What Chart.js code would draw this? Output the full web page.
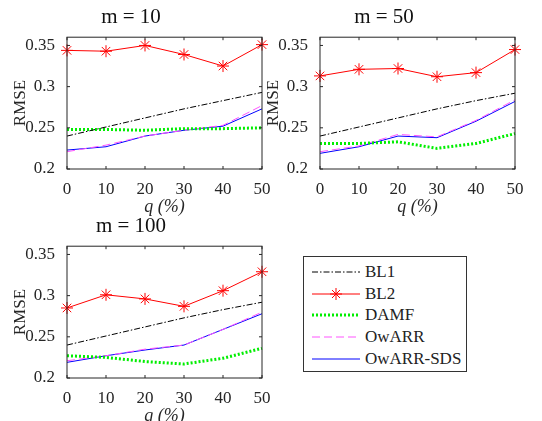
<!DOCTYPE html>
<html>
<head>
<meta charset="utf-8">
<script src="https://cdn.jsdelivr.net/npm/chart.js@4/dist/chart.umd.min.js"></script>
<style>
body { margin: 0; background: #fff; width: 542px; height: 421px; position: relative; overflow: hidden; font-family: "Liberation Serif", serif; }
canvas { position: absolute; }
.legend { position: absolute; left: 303px; top: 256px; width: 164px; height: 116px; border: 1px solid #333; box-sizing: border-box; font-size: 17px; color: #222; padding-top: 4px; white-space: nowrap; }
.legend div { height: 21.8px; display: flex; align-items: center; padding-left: 8px; }
.legend svg { margin-right: 5px; flex: none; }
</style>
</head>
<body>
<canvas id="c1" style="left:0;top:0"></canvas>
<canvas id="c2" style="left:253px;top:0"></canvas>
<canvas id="c3" style="left:0;top:209px"></canvas>
<div class="legend">
  <div><svg width="48" height="10"><line x1="0" y1="5" x2="48" y2="5" stroke="#000" stroke-dasharray="6,2,1.5,2"/></svg>BL1</div>
  <div><svg width="48" height="16"><line x1="0" y1="8" x2="48" y2="8" stroke="#f00"/><g stroke="#f00"><line x1="24" y1="2" x2="24" y2="14"/><line x1="18" y1="8" x2="30" y2="8"/><line x1="20" y1="4" x2="28" y2="12"/><line x1="28" y1="4" x2="20" y2="12"/></g></svg>BL2</div>
  <div><svg width="48" height="10"><line x1="0" y1="5" x2="48" y2="5" stroke="#00ee00" stroke-width="3" stroke-dasharray="2,2"/></svg>DAMF</div>
  <div><svg width="48" height="10"><line x1="0" y1="5" x2="48" y2="5" stroke="#ff55ff" stroke-dasharray="8,4"/></svg>OwARR</div>
  <div><svg width="48" height="10"><line x1="0" y1="5" x2="48" y2="5" stroke="#0000ff"/></svg>OwARR-SDS</div>
</div>
<script>
const q = [0, 10, 20, 30, 40, 50];
const yTicks = [0.2, 0.25, 0.3, 0.35];

const bl1_m10 = [0.240, 0.251, 0.262, 0.273, 0.283, 0.293];
const bl2_m10 = [0.344, 0.343, 0.350, 0.339, 0.325, 0.351];
const damf_m10 = [0.248, 0.248, 0.247, 0.249, 0.249, 0.250];
const owarr_m10 = [0.221, 0.229, 0.240, 0.247, 0.253, 0.277];
const sds_m10 = [0.223, 0.227, 0.240, 0.247, 0.252, 0.273];

const bl1_m50 = [0.240, 0.251, 0.262, 0.273, 0.283, 0.292];
const bl2_m50 = [0.313, 0.321, 0.322, 0.312, 0.317, 0.345];
const damf_m50 = [0.231, 0.231, 0.233, 0.225, 0.231, 0.243];
const owarr_m50 = [0.221, 0.228, 0.242, 0.239, 0.259, 0.284];
const sds_m50 = [0.219, 0.227, 0.240, 0.238, 0.258, 0.282];

const bl1_m100 = [0.240, 0.251, 0.262, 0.273, 0.283, 0.292];
const bl2_m100 = [0.285, 0.301, 0.296, 0.287, 0.306, 0.329];
const damf_m100 = [0.227, 0.225, 0.220, 0.217, 0.224, 0.236];
const owarr_m100 = [0.221, 0.227, 0.235, 0.240, 0.259, 0.280];
const sds_m100 = [0.219, 0.227, 0.234, 0.240, 0.259, 0.278];

// boîte + graduations vers l'intérieur, façon MATLAB
const boxPlugin = {
  id: 'box',
  afterDraw(chart) {
    const { ctx, chartArea: a, scales } = chart;
    ctx.save();
    ctx.strokeStyle = '#262626';
    ctx.lineWidth = 1;
    ctx.strokeRect(a.left, a.top, a.right - a.left, a.bottom - a.top);
    ctx.beginPath();
    q.forEach(v => {
      const x = scales.x.getPixelForValue(v);
      ctx.moveTo(x, a.bottom); ctx.lineTo(x, a.bottom - 3);
      ctx.moveTo(x, a.top); ctx.lineTo(x, a.top + 3);
    });
    yTicks.forEach(v => {
      const y = scales.y.getPixelForValue(v);
      ctx.moveTo(a.left, y); ctx.lineTo(a.left + 3, y);
      ctx.moveTo(a.right, y); ctx.lineTo(a.right - 3, y);
    });
    ctx.stroke();
    ctx.restore();
  }
};

function line(data, color, opts) {
  return Object.assign({ data: q.map((x, i) => ({ x, y: data[i] })), borderColor: color, borderWidth: 1, pointRadius: 0, tension: 0, clip: false }, opts);
}

function makeChart(id, title, bl1, bl2, damf, owarr, sds) {
  const cv = document.getElementById(id);
  cv.width = 280; cv.height = 218;
  cv.style.width = '280px'; cv.style.height = '218px';
  new Chart(cv, {
    type: 'line',
    data: {
      datasets: [
        line(bl1, '#000', { borderDash: [6, 2, 1.5, 2] }),
        line(bl2, '#ff0000', { pointRadius: 6, pointStyle: 'star', pointBorderColor: '#ff0000', pointBorderWidth: 1 }),
        line(damf, '#00ee00', { borderWidth: 3, borderDash: [2, 2] }),
        line(owarr, '#ff55ff', { borderDash: [8, 4] }),
        line(sds, '#0000ff'),
      ]
    },
    options: {
      responsive: false,
      animation: false,
      devicePixelRatio: 1,
      layout: { padding: { left: 0, right: 18, top: 0, bottom: 0 } },
      plugins: {
        legend: { display: false },
        tooltip: { enabled: false },
        title: { display: true, text: title, color: '#111', font: { family: 'Liberation Serif', size: 21, weight: 'normal' }, padding: { top: 5, bottom: 7 } }
      },
      scales: {
        x: {
          type: 'linear', min: 0, max: 50,
          afterBuildTicks: s => { s.ticks = q.map(v => ({ value: v })); },
          grid: { display: false },
          border: { display: false },
          ticks: { color: '#262626', font: { family: 'Liberation Serif', size: 17 }, maxRotation: 0, padding: 2 },
          title: { display: true, text: 'q (%)', color: '#262626', font: { family: 'Liberation Serif', size: 18, style: 'italic' }, padding: { top: -5, bottom: 0 } }
        },
        y: {
          min: 0.2, max: 0.36,
          afterBuildTicks: s => { s.ticks = yTicks.map(v => ({ value: v })); },
          afterFit: s => { s.width = 67; },
          grid: { display: false },
          border: { display: false },
          ticks: { color: '#262626', font: { family: 'Liberation Serif', size: 17 }, padding: 4, callback: v => String(v) },
          title: { display: true, text: 'RMSE', color: '#262626', font: { family: 'Liberation Serif', size: 17 }, padding: { top: 10, bottom: 2 } }
        }
      }
    },
    plugins: [boxPlugin]
  });
}

makeChart('c1', 'm = 10', bl1_m10, bl2_m10, damf_m10, owarr_m10, sds_m10);
makeChart('c2', 'm = 50', bl1_m50, bl2_m50, damf_m50, owarr_m50, sds_m50);
makeChart('c3', 'm = 100', bl1_m100, bl2_m100, damf_m100, owarr_m100, sds_m100);
</script>
</body>
</html>
